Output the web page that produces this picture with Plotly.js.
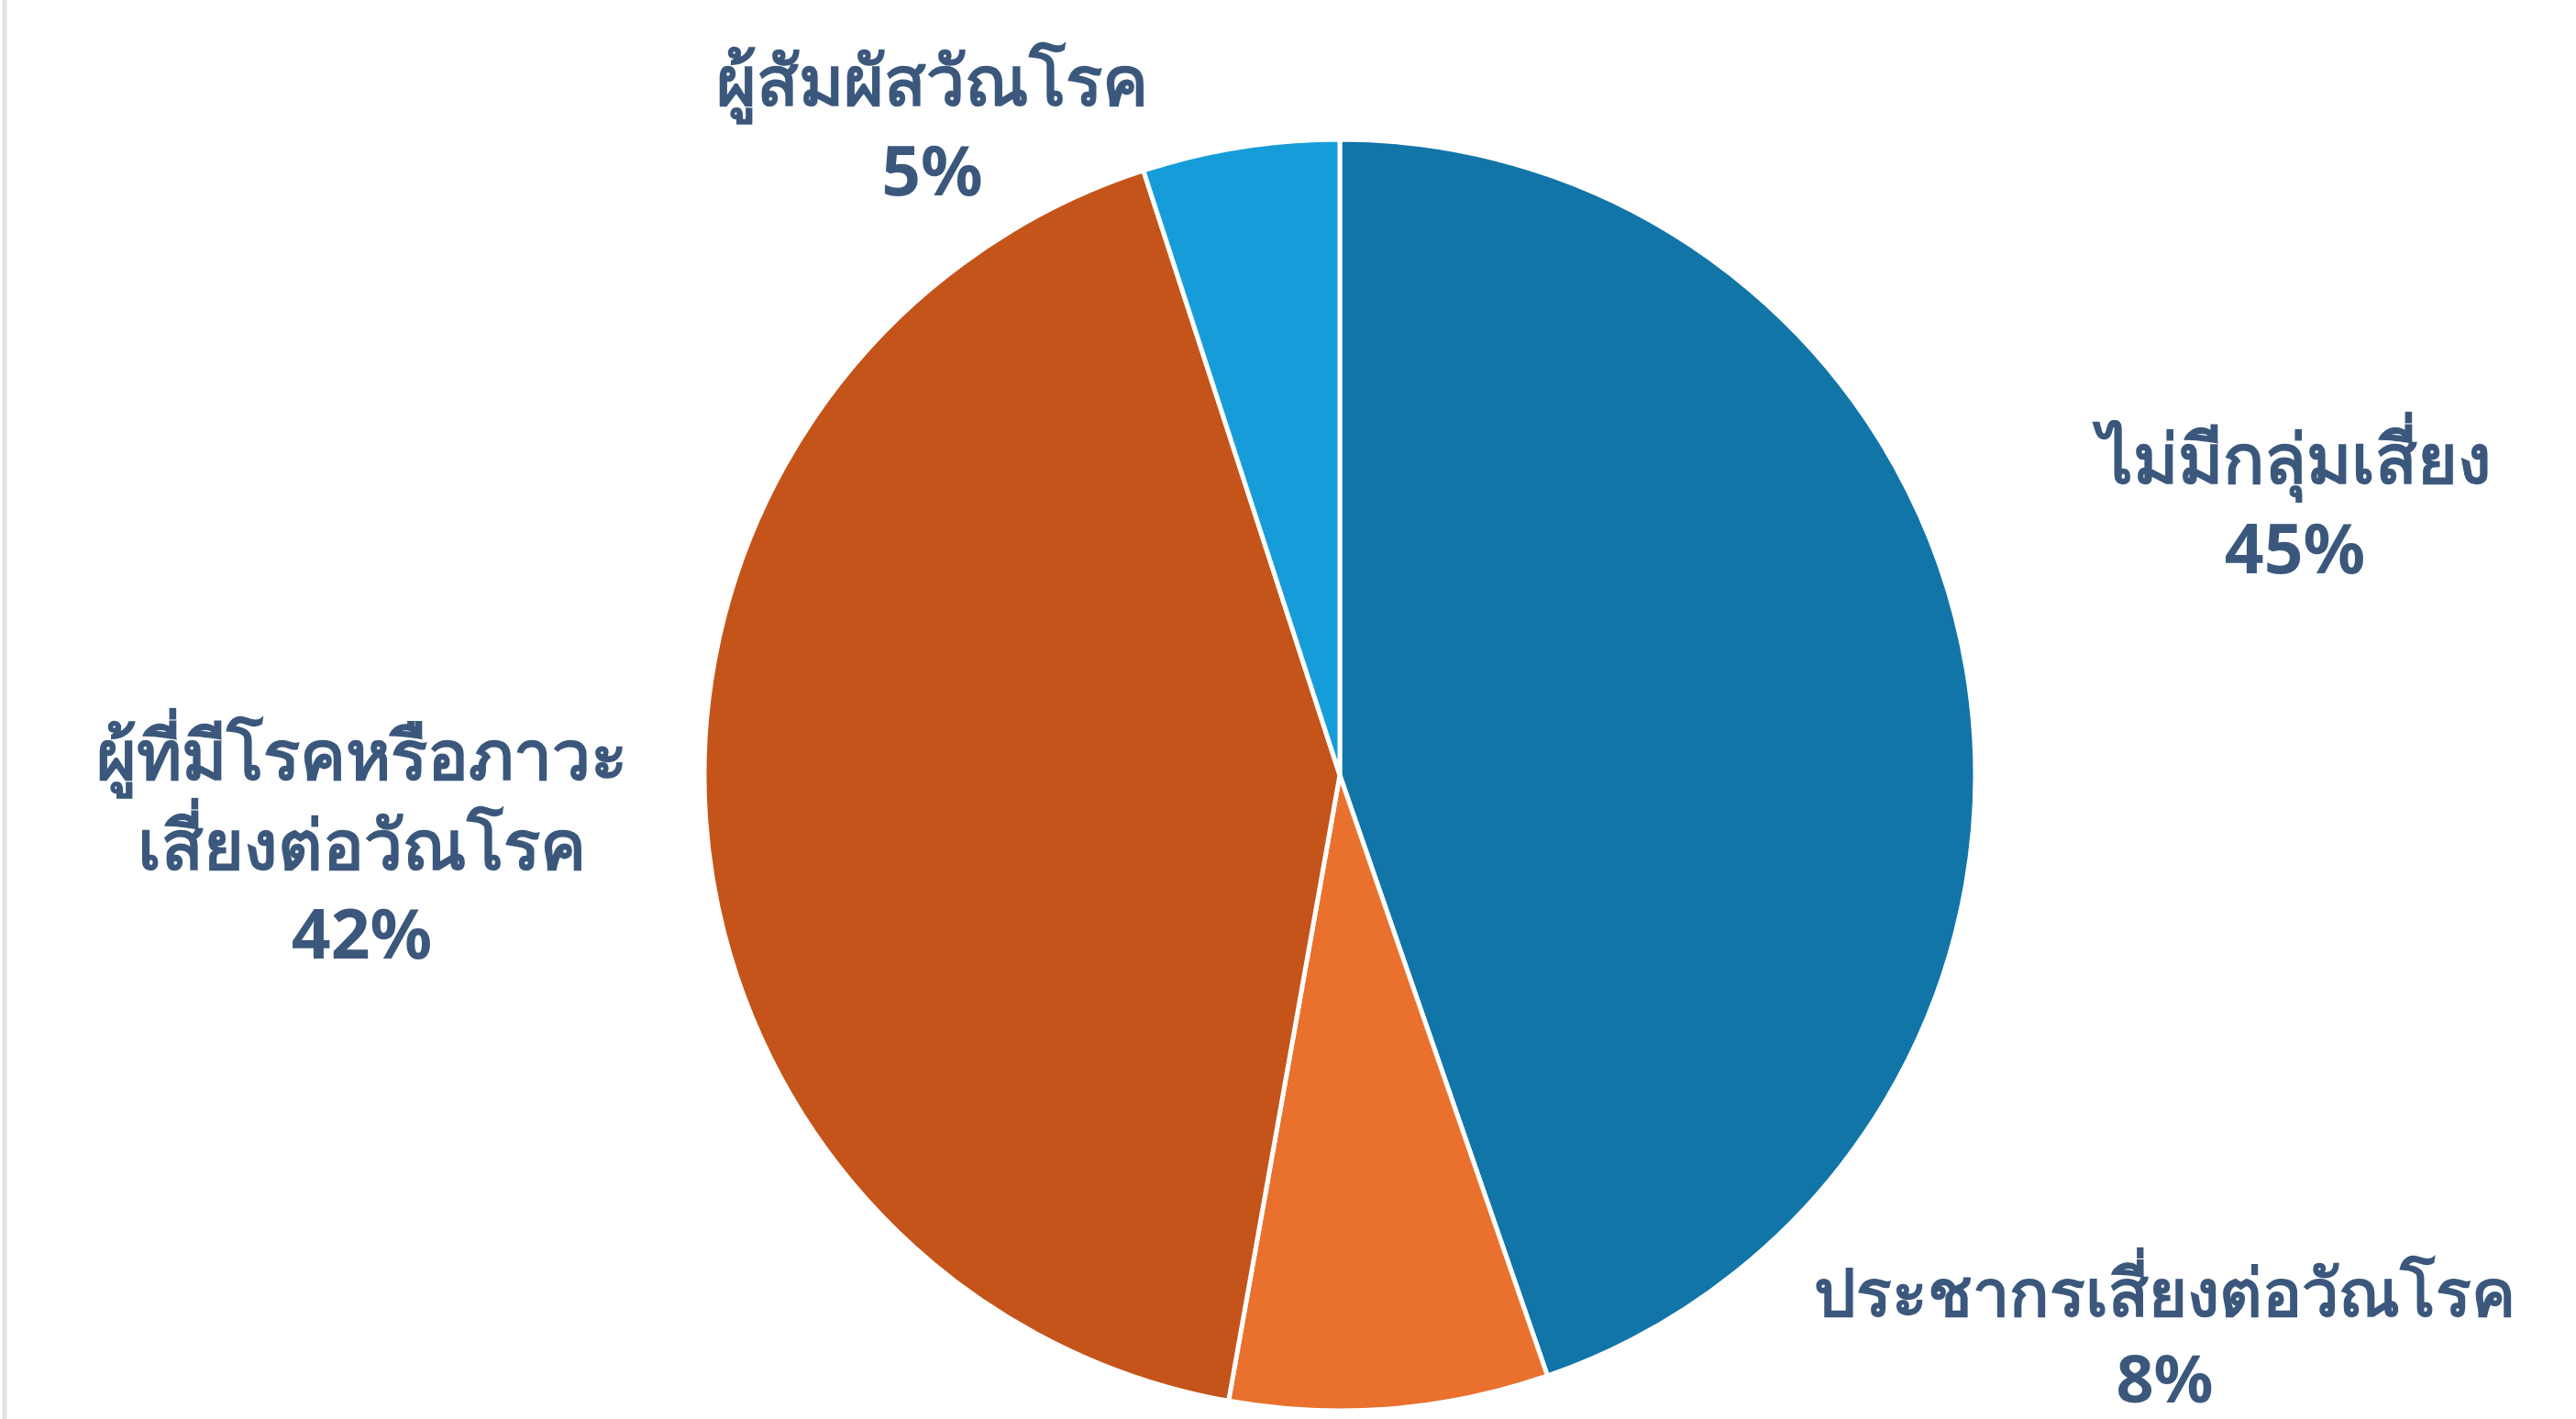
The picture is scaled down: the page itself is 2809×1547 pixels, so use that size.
<!DOCTYPE html>
<html>
<head>
<meta charset="utf-8">
<script src="https://cdn.plot.ly/plotly-3.0.1.min.js"></script>
<style>
html,body{margin:0;padding:0;background:#ffffff;}
#chart{width:2809px;height:1547px;}
</style>
</head>
<body>
<div id="chart"></div>
<script>
// Data (clockwise from 12 o'clock)
const categories = ["ไม่มีกลุ่มเสี่ยง", "ประชากรเสี่ยงต่อวัณโรค", "ผู้ที่มีโรคหรือภาวะเสี่ยงต่อวัณโรค", "ผู้สัมผัสวัณโรค"];
const labelLines = ["ไม่มีกลุ่มเสี่ยง", "ประชากรเสี่ยงต่อวัณโรค", "ผู้ที่มีโรคหรือภาวะ<br>เสี่ยงต่อวัณโรค", "ผู้สัมผัสวัณโรค"];
const values = [44.7, 8.1, 42.2, 5.0];
const sliceColors = ["#1275a8", "#e9712d", "#c5541a", "#169dd9"];

const labelPos = [
  {x: 0.8895, y: 0.6464, size: 75},
  {x: 0.8402, y: 0.0600, size: 72},
  {x: 0.1403, y: 0.4060, size: 75},
  {x: 0.3620, y: 0.9127, size: 75}
];

const total = values.reduce((a, b) => a + b, 0);
const fontFam = "Noto Sans, DejaVu Sans, sans-serif";

const annotations = categories.map((c, i) => ({
  xref: "paper", yref: "paper",
  x: labelPos[i].x, y: labelPos[i].y,
  xanchor: "center", yanchor: "middle",
  showarrow: false,
  align: "center",
  text: "<b>" + labelLines[i] + "<br>" + Math.round(values[i] / total * 100) + "%</b>",
  font: {family: fontFam, size: labelPos[i].size, color: "#3b587c"}
}));

const trace = {
  type: "pie",
  labels: categories,
  values: values,
  sort: false,
  direction: "clockwise",
  rotation: 0,
  textinfo: "none",
  hoverinfo: "label+percent",
  marker: {colors: sliceColors, line: {color: "#ffffff", width: 5}},
  domain: {x: [0.2734, 0.7668], y: [0.0058, 0.9017]},
  showlegend: false
};

const layout = {
  width: 2809, height: 1547,
  margin: {l: 0, r: 0, t: 0, b: 0},
  paper_bgcolor: "#ffffff",
  plot_bgcolor: "#ffffff",
  showlegend: false,
  annotations: annotations,
  shapes: [{
    type: "line", xref: "paper", yref: "paper",
    x0: 0.0018, x1: 0.0018, y0: 0, y1: 1,
    line: {color: "#e2e2e2", width: 5}
  }]
};

Plotly.newPlot("chart", [trace], layout, {displayModeBar: false, staticPlot: true});
</script>
</body>
</html>
